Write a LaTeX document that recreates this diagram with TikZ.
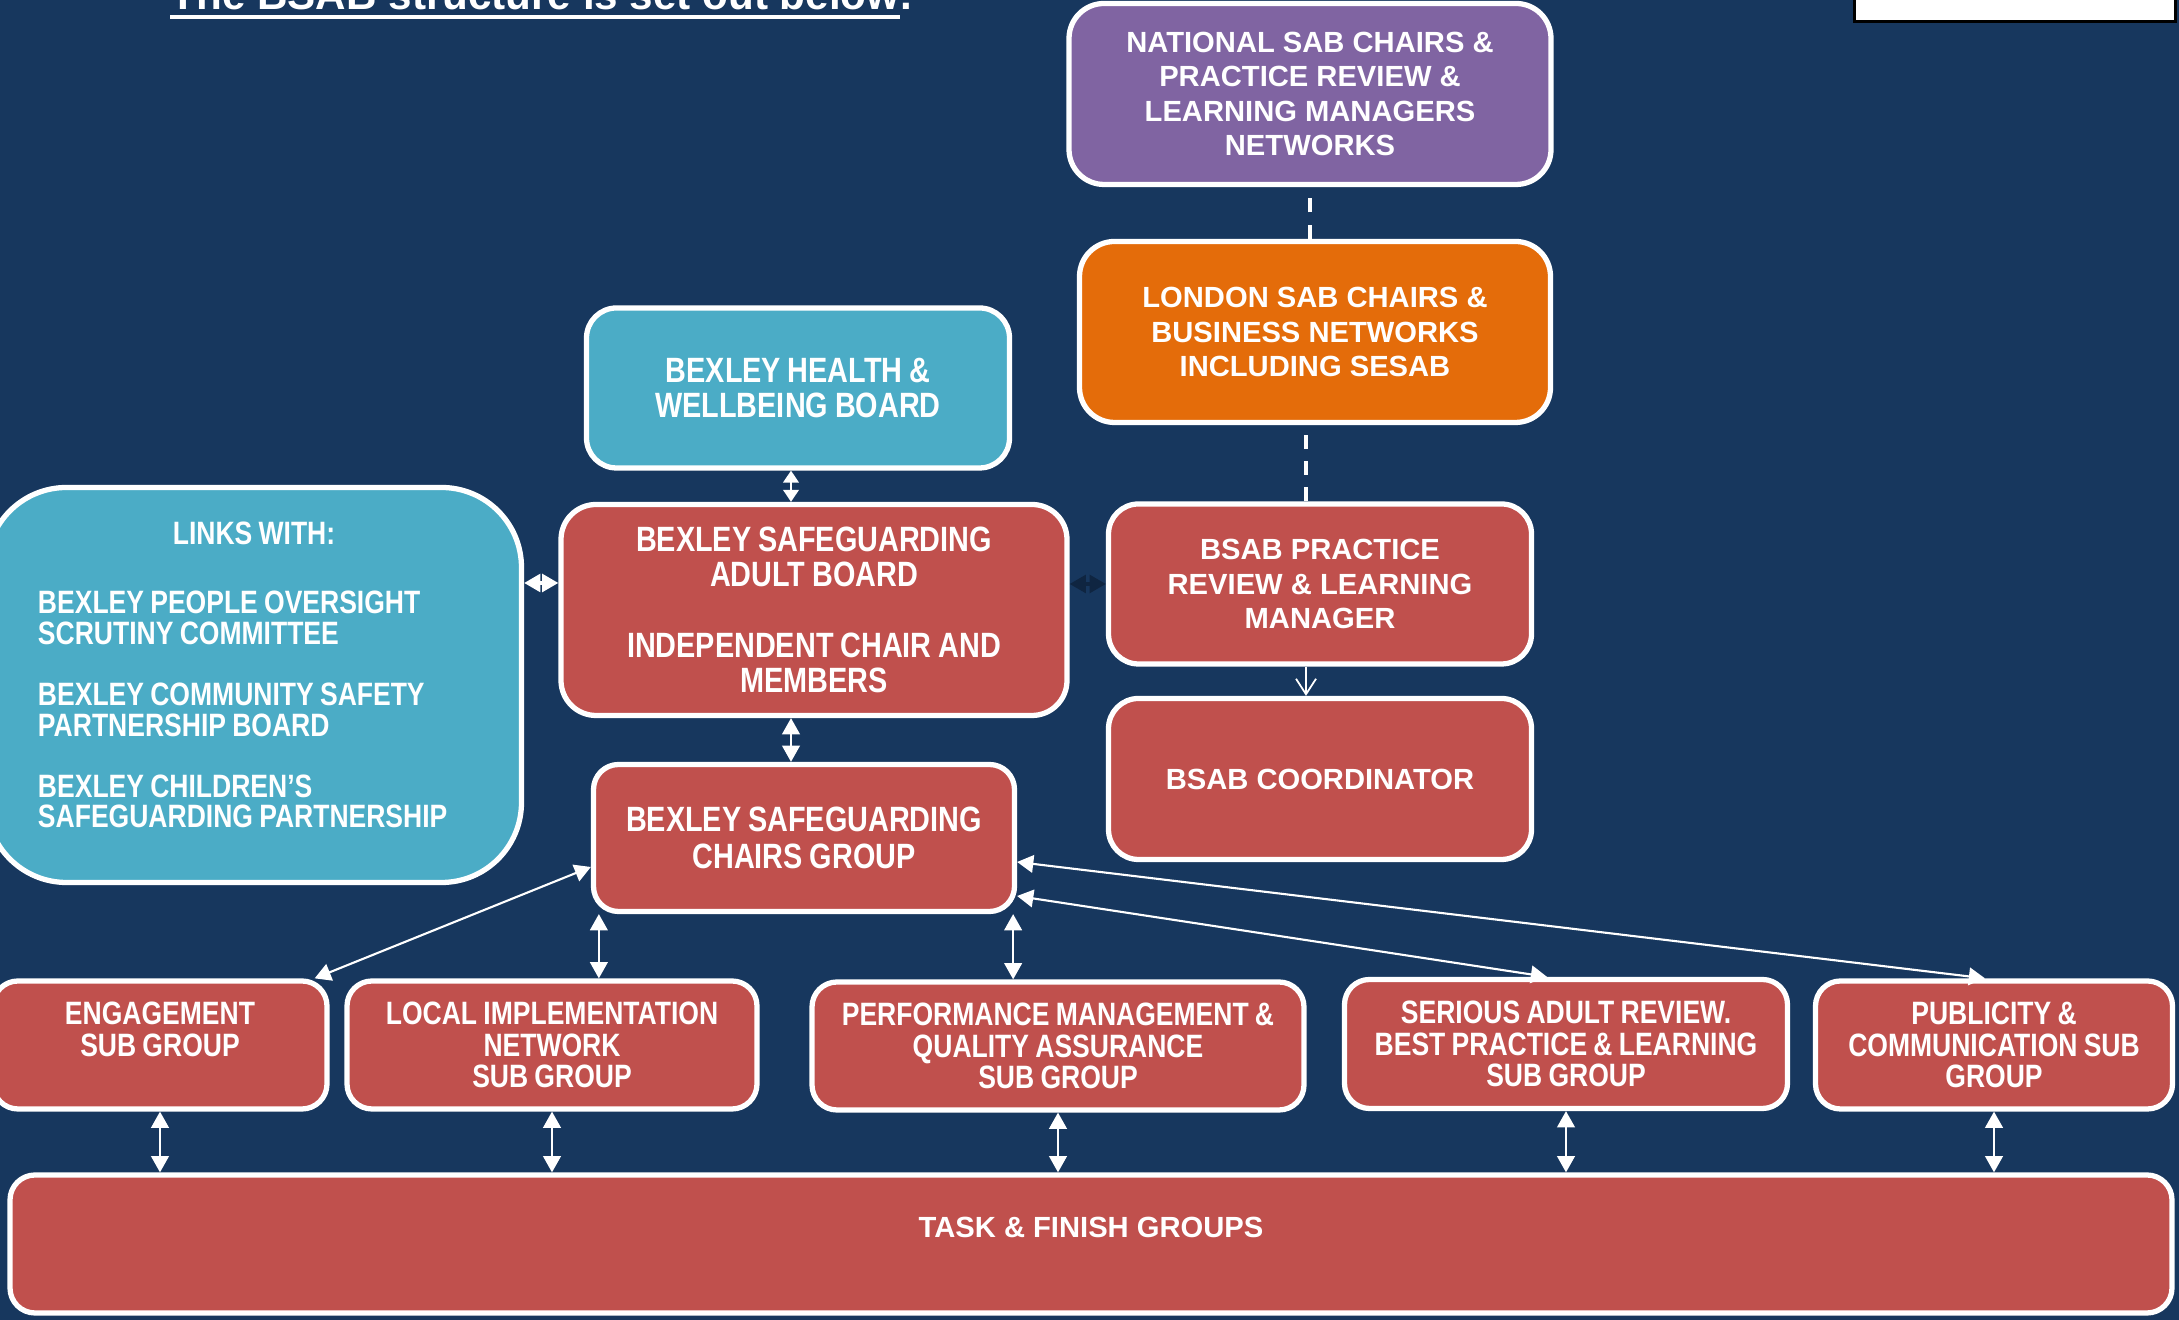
\documentclass[tikz,border=0pt]{standalone}
\usepackage{fontspec}
\setmainfont{Liberation Sans}
\newfontfamily\narrowfont[FakeStretch=0.82,WordSpace=0.85]{Liberation Sans}
\usetikzlibrary{arrows.meta}

\definecolor{bgblue}{HTML}{17375E}
\definecolor{boxred}{HTML}{C0504D}
\definecolor{boxteal}{HTML}{4BACC6}
\definecolor{boxpurple}{HTML}{8064A2}
\definecolor{boxorange}{HTML}{E46C0A}
\definecolor{darkarrow}{HTML}{0F2541}

\tikzset{
  box/.style={draw=white, line width=1.5pt, rounded corners=0.25cm, text=white, align=center, inner sep=2pt},
  widetext/.style={font=\bfseries\fontsize{8.3}{9.7}\selectfont},
  boardtext/.style={font=\narrowfont\bfseries\fontsize{10}{10}\selectfont},
  subtext/.style={font=\narrowfont\bfseries\fontsize{9.2}{8.9}\selectfont},
  link/.style={white, line width=0.6pt, {Triangle[length=4.6pt,width=5pt]}-{Triangle[length=4.6pt,width=5pt]}},
  shortlink/.style={white, line width=0.6pt, {Triangle[length=3.4pt,width=4.4pt]}-{Triangle[length=3.4pt,width=4.4pt]}},
  netlink/.style={white, line width=1.3pt, dash pattern=on 4pt off 3.5pt},
}

\begin{document}
\begin{tikzpicture}
          \useasboundingbox (0,0) rectangle (21.79,13.20);
          \fill[bgblue] (0,0) rectangle (21.79,13.20);

          %titulo
          \node[anchor=base west, inner sep=0, text=white, font=\bfseries\fontsize{12}{14}\selectfont] (title) at (1.70,13.10) {The BSAB structure is set out below};
          \node[anchor=base west, inner sep=0, text=white, font=\bfseries\fontsize{12}{14}\selectfont] (stop) at (title.base east) {.};
          \fill[white] ([yshift=-0.05cm]title.base west) rectangle ([yshift=-0.09cm]title.base east);
          \node[draw=black, fill=white, line width=0.8pt, minimum width=3.21cm, minimum height=0.8cm, anchor=south west, inner sep=0] (key) at (18.53,12.97) {};

          %caixas de cima
          \node[box, widetext, fill=boxpurple, minimum width=4.82cm, minimum height=1.81cm, rounded corners=0.35cm] (national) at (13.10,12.26) {NATIONAL SAB CHAIRS \&\\PRACTICE REVIEW \&\\LEARNING MANAGERS\\NETWORKS};
          \node[box, widetext, fill=boxorange, minimum width=4.71cm, minimum height=1.81cm, rounded corners=0.35cm] (london) at (13.15,9.88) {LONDON SAB CHAIRS \&\\BUSINESS NETWORKS\\INCLUDING SESAB};
          \node[box, boardtext, fill=boxteal, minimum width=4.23cm, minimum height=1.60cm, rounded corners=0.3cm] (health) at (7.98,9.32) {BEXLEY HEALTH \&\\WELLBEING BOARD};
          \node[box, fill=boxteal, minimum width=5.35cm, minimum height=3.95cm, rounded corners=0.8cm, align=left, font=\narrowfont\bfseries\fontsize{9.2}{8.7}\selectfont] (links) at (2.54,6.35) {\makebox[4.32cm]{LINKS WITH:}\\[11pt]BEXLEY PEOPLE OVERSIGHT\\SCRUTINY COMMITTEE\\[8.7pt]BEXLEY COMMUNITY SAFETY\\PARTNERSHIP BOARD\\[8.7pt]BEXLEY CHILDREN’S\\SAFEGUARDING PARTNERSHIP\\[-3pt]\mbox{}};

          %caixas do meio
          \node[box, boardtext, fill=boxred, minimum width=5.06cm, minimum height=2.11cm, rounded corners=0.35cm] (board) at (8.14,7.10) {BEXLEY SAFEGUARDING\\ADULT BOARD\\[10pt]INDEPENDENT CHAIR AND\\MEMBERS};
          \node[box, widetext, fill=boxred, minimum width=4.23cm, minimum height=1.60cm, rounded corners=0.3cm] (practice) at (13.20,7.36) {BSAB PRACTICE\\REVIEW \& LEARNING\\MANAGER};
          \node[box, widetext, fill=boxred, minimum width=4.23cm, minimum height=1.61cm, rounded corners=0.3cm] (coord) at (13.20,5.41) {BSAB COORDINATOR};
          \node[box, boardtext, fill=boxred, minimum width=4.21cm, minimum height=1.47cm, font=\narrowfont\bfseries\fontsize{10}{10.4}\selectfont] (chairs) at (8.04,4.82) {BEXLEY SAFEGUARDING\\CHAIRS GROUP};

          %sub groups
          \node[box, subtext, fill=boxred, minimum width=3.34cm, minimum height=1.28cm] (engage) at (1.60,2.75) {ENGAGEMENT\\SUB GROUP\\\mbox{}};
          \node[box, subtext, fill=boxred, minimum width=4.10cm, minimum height=1.28cm] (local) at (5.52,2.75) {LOCAL IMPLEMENTATION\\NETWORK\\SUB GROUP};
          \node[box, subtext, fill=boxred, minimum width=4.92cm, minimum height=1.28cm] (perf) at (10.58,2.74) {PERFORMANCE MANAGEMENT \&\\QUALITY ASSURANCE\\SUB GROUP};
          \node[box, subtext, fill=boxred, minimum width=4.43cm, minimum height=1.29cm] (serious) at (15.66,2.76) {SERIOUS ADULT REVIEW.\\BEST PRACTICE \& LEARNING\\SUB GROUP};
          \node[box, subtext, fill=boxred, minimum width=3.57cm, minimum height=1.28cm] (publicity) at (19.94,2.75) {PUBLICITY \&\\COMMUNICATION SUB\\GROUP};
          \node[box, widetext, fill=boxred, minimum width=21.62cm, minimum height=1.38cm, text height=6pt, text depth=9.8pt] (task) at (10.91,0.76) {TASK \& FINISH GROUPS};

          %linhas tracejadas
          \draw[netlink] (national.south |- london.north) -- (national.south);
          \draw[netlink] ([xshift=-0.14cm]practice.north) -- ([xshift=-0.14cm]practice.north |- london.south);
          \draw[white, line width=0.5pt, -{Straight Barb[length=4.4pt,width=5.7pt]}] ([xshift=-0.14cm]practice.south) -- ([xshift=-0.14cm]practice.south |- coord.north);

          %setas do board
          \coordinate (spine) at ([xshift=-0.07cm]health.south);
          \draw[shortlink] (spine) -- (spine |- board.north);
          \draw[link] (spine |- board.south) -- (spine |- chairs.north);
          \draw[link, line width=1pt] ([yshift=0.27cm]board.west) -- ([yshift=0.27cm]board.west -| links.east);
          \draw[link, darkarrow, line width=1pt] (practice.west) -- (practice.west -| board.east);

          %setas do chairs group
          \draw[link] ([yshift=-0.29cm]chairs.west) -- ([xshift=-0.15cm]engage.north east);
          \draw[link] ([xshift=0.08cm]chairs.south west) -- ([xshift=0.08cm]chairs.south west |- local.north);
          \draw[link] ([xshift=-0.04cm]chairs.south east) -- ([xshift=-0.04cm]chairs.south east |- perf.north);
          \draw[link] ([yshift=-0.58cm]chairs.east) -- ([xshift=-0.19cm]serious.north);
          \draw[link] ([yshift=-0.24cm]chairs.east) -- ([xshift=-0.09cm]publicity.north);

          %setas para task
          \draw[link] (engage.south) -- (engage.south |- task.north);
          \draw[link] (local.south) -- (local.south |- task.north);
          \draw[link] (perf.south) -- (perf.south |- task.north);
          \draw[link] (serious.south) -- (serious.south |- task.north);
          \draw[link] (publicity.south) -- (publicity.south |- task.north);
\end{tikzpicture}
\end{document}
